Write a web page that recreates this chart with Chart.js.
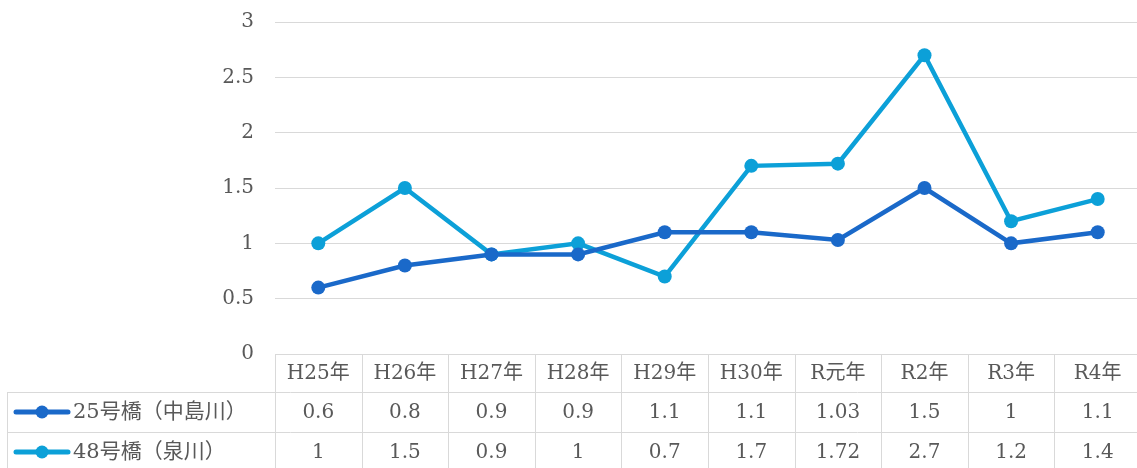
<!DOCTYPE html>
<html>
<head>
<meta charset="utf-8">
<script src="https://cdn.jsdelivr.net/npm/chart.js@4/dist/chart.umd.min.js"></script>
<style>
  html, body { margin: 0; padding: 0; background: #fff; overflow: hidden; }
</style>
</head>
<body>
<canvas id="chart" width="1148" height="468"></canvas>
<script>
const years = ['H25年', 'H26年', 'H27年', 'H28年', 'H29年', 'H30年', 'R元年', 'R2年', 'R3年', 'R4年'];
const nakajima = [0.6, 0.8, 0.9, 0.9, 1.1, 1.1, 1.03, 1.5, 1, 1.1];
const izumi = [1, 1.5, 0.9, 1, 0.7, 1.7, 1.72, 2.7, 1.2, 1.4];
const seriesNames = ['25号橋（中島川）', '48号橋（泉川）'];
const seriesColors = ['#1A69C9', '#0CA0D8'];

const FONT = '"DejaVu Serif", "Noto Sans CJK JP", serif';
const TEXT = '#595959';
const GRID = '#d9d9d9';

// data table under the plot, aligned with the x scale
const dataTable = {
    id: 'dataTable',
    afterDraw(chart) {
        const ctx = chart.ctx;
        const x = chart.scales.x;
        const y = chart.scales.y;
        const top = Math.round(y.getPixelForValue(0));
        const rows = [top, top + 38, top + 78, top + 118];
        const step = x.getPixelForValue(1) - x.getPixelForValue(0);
        const left = x.getPixelForValue(0) - step / 2;
        const right = x.getPixelForValue(years.length - 1) + step / 2;
        const legendLeft = 7;

        ctx.save();
        ctx.strokeStyle = GRID;
        ctx.lineWidth = 1;
        ctx.beginPath();
        ctx.moveTo(left, rows[0] + 0.5); ctx.lineTo(right, rows[0] + 0.5);
        for (let r = 1; r < rows.length; r++) {
            ctx.moveTo(legendLeft, rows[r] + 0.5); ctx.lineTo(right, rows[r] + 0.5);
        }
        for (let i = 0; i <= years.length; i++) {
            const xx = Math.round(left + i * step) + 0.5;
            ctx.moveTo(xx, rows[0]); ctx.lineTo(xx, rows[3]);
        }
        ctx.moveTo(legendLeft + 0.5, rows[1]); ctx.lineTo(legendLeft + 0.5, rows[3]);
        ctx.stroke();

        ctx.fillStyle = TEXT;
        ctx.font = '20px ' + FONT;
        ctx.textAlign = 'center';
        ctx.textBaseline = 'middle';
        years.forEach((lab, i) => {
            ctx.fillText(lab, x.getPixelForValue(i), (rows[0] + rows[1]) / 2 + 1);
        });
        [nakajima, izumi].forEach((vals, s) => {
            const cy = (rows[s + 1] + rows[s + 2]) / 2 + 1;
            ctx.font = '20px ' + FONT;
            vals.forEach((v, i) => {
                ctx.fillText(String(v), x.getPixelForValue(i), cy);
            });
            // legend key
            ctx.strokeStyle = seriesColors[s];
            ctx.lineWidth = 5;
            ctx.lineCap = 'round';
            ctx.beginPath();
            ctx.moveTo(16, cy - 1); ctx.lineTo(68, cy - 1);
            ctx.stroke();
            ctx.fillStyle = seriesColors[s];
            ctx.beginPath();
            ctx.arc(42, cy - 1, 6.5, 0, Math.PI * 2);
            ctx.fill();
            ctx.fillStyle = TEXT;
            ctx.textAlign = 'left';
            ctx.font = '21px ' + FONT;
            ctx.fillText(seriesNames[s], 73, cy);
            ctx.textAlign = 'center';
        });
        ctx.restore();
    }
};

new Chart(document.getElementById('chart'), {
    type: 'line',
    data: {
        labels: years,
        datasets: [nakajima, izumi].map((vals, s) => ({
            label: seriesNames[s],
            data: vals,
            borderColor: seriesColors[s],
            backgroundColor: seriesColors[s],
            borderWidth: 4.5,
            pointRadius: 7,
            pointHoverRadius: 7,
            pointBorderWidth: 0,
            tension: 0
        }))
    },
    options: {
        responsive: false,
        animation: false,
        layout: { padding: { top: 22, bottom: 114, left: 0, right: 0 } },
        plugins: {
            legend: { display: false },
            tooltip: { enabled: false }
        },
        scales: {
            x: {
                display: false,
                offset: true,
                afterFit: (scale) => {
                    scale.paddingLeft = 0; scale.paddingRight = 0;
                    scale.paddingTop = 0; scale.paddingBottom = 0;
                }
            },
            y: {
                min: 0,
                max: 3,
                afterFit: (scale) => {
                    scale.width = 275;
                    scale.paddingTop = 0; scale.paddingBottom = 0;
                    scale.paddingLeft = 0; scale.paddingRight = 0;
                },
                ticks: {
                    stepSize: 0.5,
                    padding: 21,
                    color: TEXT,
                    font: { family: FONT, size: 20 },
                    callback: (v) => String(v)
                },
                grid: { color: GRID, drawTicks: false },
                border: { display: false }
            }
        }
    },
    plugins: [dataTable]
});
</script>
</body>
</html>
